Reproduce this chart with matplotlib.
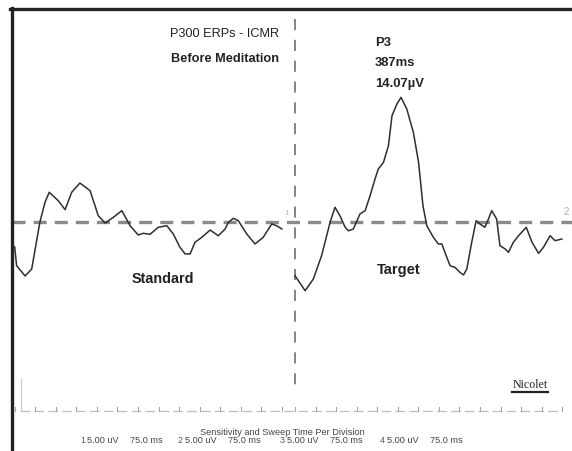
import matplotlib
matplotlib.use("Agg")
import matplotlib.pyplot as plt
from matplotlib.lines import Line2D
import numpy as np

plt.rcParams['font.family'] = ['Liberation Sans', 'DejaVu Sans']
plt.rcParams['lines.scale_dashes'] = False

# averaged ERP traces, time in ms from sweep start, amplitude in uV
std_ms = [0, 7, 38, 62, 92, 111, 126, 159, 184, 208, 238, 275, 305, 330, 360, 391,
          421, 451, 469, 494, 524, 555, 579, 603, 622, 640, 658, 683, 713, 743, 768,
          780, 798, 816, 847, 877, 907, 938, 956, 975]
std_uv = [-2.78, -4.89, -6.04, -5.26, 0.03, 2.29, 3.38, 2.43, 1.42, 3.38, 4.42, 3.56,
          0.74, -0.08, 0.56, 1.31, -0.38, -1.43, -1.24, -1.35, -0.56, -0.38, -1.32,
          -2.81, -3.56, -3.56, -2.25, -1.69, -0.87, -1.51, -0.75, 0.0, 0.45, 0.18,
          -1.32, -2.44, -1.69, -0.19, -0.38, -0.75]

tgt_ms = [0, 37, 67, 97, 128, 146, 164, 183, 195, 213, 237, 256, 274, 292, 304, 323,
          341, 354, 372, 387, 408, 432, 451, 467, 481, 505, 523, 536, 554, 566, 584,
          602, 615, 627, 645, 661, 675, 693, 706, 718, 736, 748, 767, 779, 797, 816,
          844, 865, 889, 907, 931, 949, 974]
tgt_uv = [-6.01, -7.70, -6.38, -3.76, 0.0, 1.69, 0.74, -0.56, -0.95, -0.75, 0.93, 1.31,
          2.99, 4.87, 6.00, 6.75, 8.62, 12.0, 13.32, 14.07, 12.75, 10.13, 6.75, 1.87,
          -0.38, -1.69, -2.44, -2.44, -3.94, -4.89, -5.07, -5.63, -5.93, -5.26, -2.25,
          0.18, -0.19, -0.56, 0.37, 1.31, 0.37, -2.63, -3.0, -3.38, -2.25, -1.51,
          -0.56, -2.25, -3.49, -2.81, -1.51, -2.07, -1.88]

p3_latency = 387      # ms
p3_amp = 14.07        # uV

channels = [1, 2, 3, 4]
sensitivity = ["5.00 uV", "5.00 uV", "5.00 uV", "5.00 uV"]
sweep = ["75.0 ms", "75.0 ms", "75.0 ms", "75.0 ms"]
ms_per_div = 75

W, H = 572, 452
fig = plt.figure(figsize=(W / 100, H / 100), dpi=100)
ax = fig.add_axes([0, 0, 1, 1])
ax.axis('off')

# screen scale of the recorder printout
px_per_ms = 0.274
px_per_uv = 8.884
x_start, y_zero = 14.7, 223.3
ax.set_xlim(-x_start / px_per_ms, (W - x_start) / px_per_ms)
ax.set_ylim(-(H - y_zero) / px_per_uv, y_zero / px_per_uv)
tgt_offset = (295 - x_start) / px_per_ms


def fx(x):
    return x / W


def fy(y):
    return 1 - y / H


# frame
fig.add_artist(Line2D([fx(10), fx(W)], [fy(10), fy(10)], color='#222222', lw=2.4))
fig.add_artist(Line2D([fx(11.7), fx(11.7)], [fy(9), fy(H)], color='#222222', lw=2.4))

# baseline and sweep divider
ax.plot([(12 - x_start) / px_per_ms, ax.get_xlim()[1]], [0, 0], color='#8a8a8a',
        lw=2.4, dashes=(9.4, 5.8))
ax.plot([tgt_offset, tgt_offset], [(y_zero - 20) / px_per_uv, (y_zero - 393) / px_per_uv],
        color='#7a7a7a', lw=1.3, dashes=(8, 7))

# traces
ax.plot(std_ms, std_uv, color='#2e2e2e', lw=1.1)
ax.plot(np.array(tgt_ms) + tgt_offset, tgt_uv, color='#2e2e2e', lw=1.1)

# division scale at the bottom
scale_uv = (y_zero - 412) / px_per_uv
tick_uv = 4 / px_per_uv
ax.plot([(20 - x_start) / px_per_ms, (560 - x_start) / px_per_ms], [scale_uv, scale_uv],
        color='#bdbdbd', lw=0.9, dashes=(7, 3))
for start in [0, tgt_offset]:
    for k in range(int(975 / ms_per_div) + 1):
        t = start + k * ms_per_div
        ax.plot([t, t], [scale_uv, scale_uv + tick_uv], color='#a5a5a5', lw=0.8)
ax.plot([(21 - x_start) / px_per_ms] * 2, [scale_uv, scale_uv + 32 / px_per_uv],
        color='#c8c8c8', lw=0.8)

# annotations
fig.text(fx(225), fy(37), "P300 ERPs - ICMR", ha='center', va='baseline',
         fontsize=9.2, color='#222222')
fig.text(fx(225), fy(62), "Before Meditation", ha='center', va='baseline',
         fontsize=9.2, fontweight='bold', color='#222222')
fig.text(fx(375), fy(46.5), "P3", ha='left', va='baseline', fontsize=9.4,
         fontweight='bold', color='#222222')
fig.text(fx(375), fy(66.5), f"{p3_latency}ms", ha='left', va='baseline',
         fontsize=9.4, fontweight='bold', color='#222222')
fig.text(fx(375), fy(86.5), f"{p3_amp:.2f}\u00b5V", ha='left', va='baseline',
         fontsize=9.4, fontweight='bold', color='#222222')
fig.text(fx(163), fy(283), "Standard", ha='center', va='baseline', fontsize=10.4,
         fontweight='bold', color='#222222')
fig.text(fx(399), fy(274), "Target", ha='center', va='baseline', fontsize=10.6,
         fontweight='bold', color='#222222')

fig.text(fx(287), fy(215), "1", ha='center', va='baseline', fontsize=6, color='#bbbbbb')
fig.text(fx(566), fy(215), "2", ha='center', va='baseline', fontsize=7, color='#aaaaaa')

fig.text(fx(530), fy(388), "Nicolet", ha='center', va='baseline', fontsize=8.6,
         family='Liberation Serif', color='#222222')
fig.add_artist(Line2D([fx(512), fx(548)], [fy(392.5), fy(392.5)], color='#222222', lw=1.6))

fig.text(fx(282), fy(435), "Sensitivity and Sweep Time Per Division", ha='center',
         va='baseline', fontsize=6.6, color='#444444')
for ch, sens, sw, x in zip(channels, sensitivity, sweep, [80, 178, 280, 380]):
    fig.text(fx(x), fy(443), str(ch), ha='left', va='baseline', fontsize=6.4, color='#555555')
    fig.text(fx(x + 7), fy(443), sens, ha='left', va='baseline', fontsize=6.6, color='#444444')
    fig.text(fx(x + 50), fy(443), sw, ha='left', va='baseline', fontsize=6.6, color='#444444')

fig.savefig("out.png", dpi=100)
